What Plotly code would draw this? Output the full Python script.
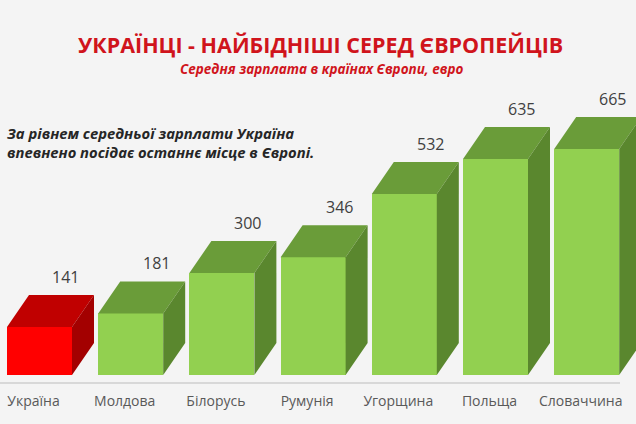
import plotly.graph_objects as go

categories = ["Україна", "Молдова", "Білорусь", "Румунія", "Угорщина", "Польща", "Словаччина"]
values = [141, 181, 300, 346, 532, 635, 665]
highlight = [True, False, False, False, False, False, False]

title_text = "УКРАЇНЦІ - НАЙБІДНІШІ СЕРЕД ЄВРОПЕЙЦІВ"
subtitle_text = "Середня зарплата в країнах Європи, евро"
note_lines = ["За рівнем середньої зарплати Україна",
              "впевнено посідає останнє місце в Європі."]

W, H = 636, 424
PLOT_H = 383
STEP = 91.2          # px per category
X0PX = 39.5          # px centre of first bar front
PXU = 0.34           # px per euro
BASE_PX = 375
BAR_W = 65 / STEP
DX = 22 / STEP
DY = 32 / PXU

xr = [-X0PX / STEP, (W - X0PX) / STEP]
yr = [-(PLOT_H - BASE_PX) / PXU, BASE_PX / PXU]

col_front = {True: "#ff0000", False: "#92d050"}
col_top = {True: "#c00000", False: "#6a9c39"}
col_side = {True: "#a30000", False: "#5a872e"}

fig = go.Figure()
xs = list(range(len(categories)))

fig.add_trace(go.Bar(
    x=xs, y=values, width=BAR_W,
    marker=dict(color=[col_front[h] for h in highlight], line=dict(width=0)),
    hoverinfo="skip", showlegend=False))

for i, (v, h) in enumerate(zip(values, highlight)):
    x0 = i - BAR_W / 2
    x1 = i + BAR_W / 2
    # top face
    fig.add_trace(go.Scatter(
        x=[x0, x0 + DX, x1 + DX, x1, x0],
        y=[v, v + DY, v + DY, v, v],
        fill="toself", fillcolor=col_top[h], mode="lines",
        line=dict(width=0, color=col_top[h]), hoverinfo="skip", showlegend=False))
    # side face
    fig.add_trace(go.Scatter(
        x=[x1, x1 + DX, x1 + DX, x1, x1],
        y=[0, DY, v + DY, v, 0],
        fill="toself", fillcolor=col_side[h], mode="lines",
        line=dict(width=0, color=col_side[h]), hoverinfo="skip", showlegend=False))
    fig.add_annotation(x=i + 26 / STEP, y=v + DY, yanchor="bottom", yshift=5,
                       text=str(v), showarrow=False,
                       font=dict(family="Open Sans", size=16, color="#404040"))

def py(p):
    return 1 - p / PLOT_H

fig.add_annotation(xref="paper", yref="paper", x=320 / W, y=py(44), text="<b>" + title_text + "</b>",
                   showarrow=False, xanchor="center", yanchor="middle",
                   font=dict(family="Open Sans", size=21.5, color="#d0141c"))
fig.add_annotation(xref="paper", yref="paper", x=322 / W, y=py(69),
                   text="<b><i>" + subtitle_text + "</i></b>",
                   showarrow=False, xanchor="center", yanchor="middle",
                   font=dict(family="Open Sans", size=13.5, color="#d0141c"))
for k, (line, p) in enumerate(zip(note_lines, [133, 152])):
    fig.add_annotation(xref="paper", yref="paper", x=5 / W, y=py(p),
                       text="<b><i>" + line + "</i></b>",
                       showarrow=False, xanchor="left", yanchor="middle",
                       font=dict(family="Open Sans", size=14.8, color="#262626"))

fig.add_shape(type="line", xref="paper", yref="paper", x0=0, x1=620 / W, y0=0, y1=0,
              line=dict(color="#cfcfcf", width=1.5))

fig.update_layout(
    width=W, height=H,
    margin=dict(l=0, r=0, t=0, b=H - PLOT_H),
    paper_bgcolor="#f4f4f4", plot_bgcolor="#f4f4f4",
    bargap=0,
    xaxis=dict(range=xr, showgrid=False, zeroline=False, showline=False,
               tickmode="array", tickvals=[i - 6 / STEP for i in xs], ticktext=categories,
               ticks="", ticklabelstandoff=8,
               tickfont=dict(family="Open Sans", size=14, color="#595959"),
               fixedrange=True),
    yaxis=dict(range=yr, visible=False, fixedrange=True),
)

fig.write_html("out.html", config={"displayModeBar": False},
               post_script="document.body.style.margin='0';document.body.style.background='#f4f4f4';")
